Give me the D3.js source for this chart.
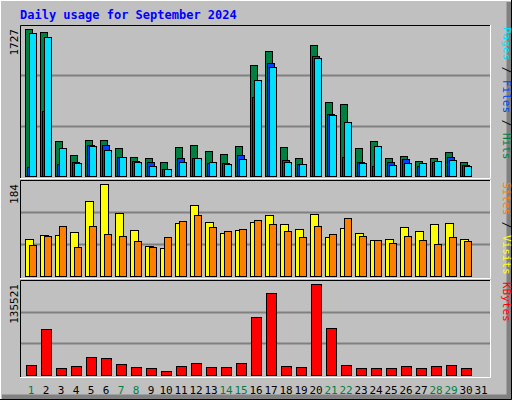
<!DOCTYPE html>
<html><head><meta charset="utf-8">
<script src="https://cdn.jsdelivr.net/npm/d3@7"></script>
<style>body{margin:0}svg text{font-family:"DejaVu Sans Mono",monospace}</style>
</head><body><svg id="chart" width="512" height="400"></svg>
<script>
let days = d3.range(1, 32)
let weekend = [1, 7, 8, 14, 15, 21, 22, 28, 29]
let hits = [1727,1692,411,247,423,423,329,223,212,165,341,364,294,258,352,1304,1469,341,212,1539,869,846,329,411,212,235,176,212,282,165]
let files = [110,764,141,165,364,364,223,176,165,82,212,212,153,153,247,928,1328,188,141,1410,728,223,165,117,165,200,117,165,223,129]
let pages = [1680,1633,329,153,352,305,223,165,117,82,165,212,165,141,200,1128,1280,165,141,1386,717,634,153,352,129,153,153,176,188,117]
let visits = [74,82,82,88,150,184,126,92,60,56,106,142,108,86,92,108,122,104,94,124,78,96,86,72,74,98,90,104,106,74]
let sites = [62,80,100,58,100,84,80,70,58,78,110,122,98,90,94,112,104,90,78,100,84,116,80,72,66,80,72,64,78,70]
let kbytes = [15400,69000,10400,13900,27300,25800,16900,12400,10900,6450,13900,18400,12400,12400,18400,86900,122600,13900,12400,135521,70500,15400,10900,10900,10900,13900,10900,13900,15400,10900]

let svg = d3.select('#chart')
let x0 = 25, step = 15
let dx = i => x0 + step * i

// frame
svg.append('rect').attr('width', 512).attr('height', 400).attr('fill', '#c0c0c0')
svg.append('path').attr('d', 'M0,399V0H511').attr('stroke', '#ffffff').attr('stroke-width', 2).attr('fill', 'none')
svg.append('path').attr('d', 'M2,397H509V2').attr('stroke', '#808080').attr('stroke-width', 5).attr('fill', 'none')
svg.append('path').attr('d', 'M0,399.5H511.5V0').attr('stroke', '#000').attr('fill', 'none')

svg.append('text').text('Daily usage for September 2024')
    .attr('x', 20).attr('y', 19).attr('fill', '#0000ff')
    .attr('font-size', 12).attr('font-weight', 'bold')

function panel(top, bottom, ymax, maxLabel, series, legend) {
    svg.append('rect').attr('x', 20).attr('y', top).attr('width', 471).attr('height', bottom - top + 2)
        .attr('fill', '#c0c0c0')
    svg.append('path').attr('d', `M20.5,${bottom + 2}V${top + 0.5}H490.5`).attr('stroke', '#000').attr('fill', 'none')
    svg.append('path').attr('d', `M490.5,${top}V${bottom + 2.5}H20`).attr('stroke', '#fff').attr('fill', 'none')
    let h = bottom - top
    ;[1, 2].forEach(k => {
        let gy = Math.round(bottom - h * k / 3) + 0.5
        svg.append('line').attr('x1', 21).attr('x2', 490).attr('y1', gy).attr('y2', gy)
            .attr('stroke', '#808080').attr('stroke-width', 2)
    })
    let y = d3.scaleLinear().domain([0, ymax]).range([bottom, ymax === 0 ? bottom : top + 4])
    series.forEach(s => {
        svg.append('g').selectAll('rect').data(s.values).join('rect')
            .attr('x', (d, i) => dx(i) + s.off + 0.5)
            .attr('y', d => Math.round(y(d)) + 0.5)
            .attr('width', s.w)
            .attr('height', d => bottom - Math.round(y(d)))
            .attr('fill', s.color).attr('stroke', '#000')
    })
    svg.append('text').text(maxLabel)
        .attr('transform', `translate(18,${top + 4}) rotate(-90)`)
        .attr('text-anchor', 'end').attr('font-size', 11)
    let lg = svg.append('text').attr('font-size', 11)
        .attr('transform', `translate(503,${top + 2}) rotate(90)`)
    legend.forEach((p, i) => {
        if (i) lg.append('tspan').text(' / ').attr('fill', '#000')
        lg.append('tspan').text(p[0]).attr('fill', p[1])
    })
}

panel(25, 176, 1727, '1727', [
    {values: hits, color: '#008040', off: 0, w: 7},
    {values: files, color: '#0040ff', off: 2, w: 7},
    {values: pages, color: '#00e0ff', off: 4, w: 7}
], [['Hits', '#008040'], ['Files', '#0040ff'], ['Pages', '#00e0ff']].reverse())

panel(180, 276, 184, '184', [
    {values: visits, color: '#ffff00', off: 0, w: 8},
    {values: sites, color: '#ff8000', off: 4, w: 7}
], [['Visits', '#ffff00'], ['Sites', '#ff8000']].reverse())

panel(280, 375, 135521, '135521', [
    {values: kbytes, color: '#ff0000', off: 1, w: 10}
], [['KBytes', '#ff0000']])

svg.append('g').selectAll('text').data(days).join('text')
    .text(d => d)
    .attr('x', (d, i) => dx(i) + 6)
    .attr('y', 394)
    .attr('text-anchor', 'middle').attr('font-size', 11)
    .attr('fill', d => weekend.includes(d) ? '#008040' : '#000')
</script></body></html>
